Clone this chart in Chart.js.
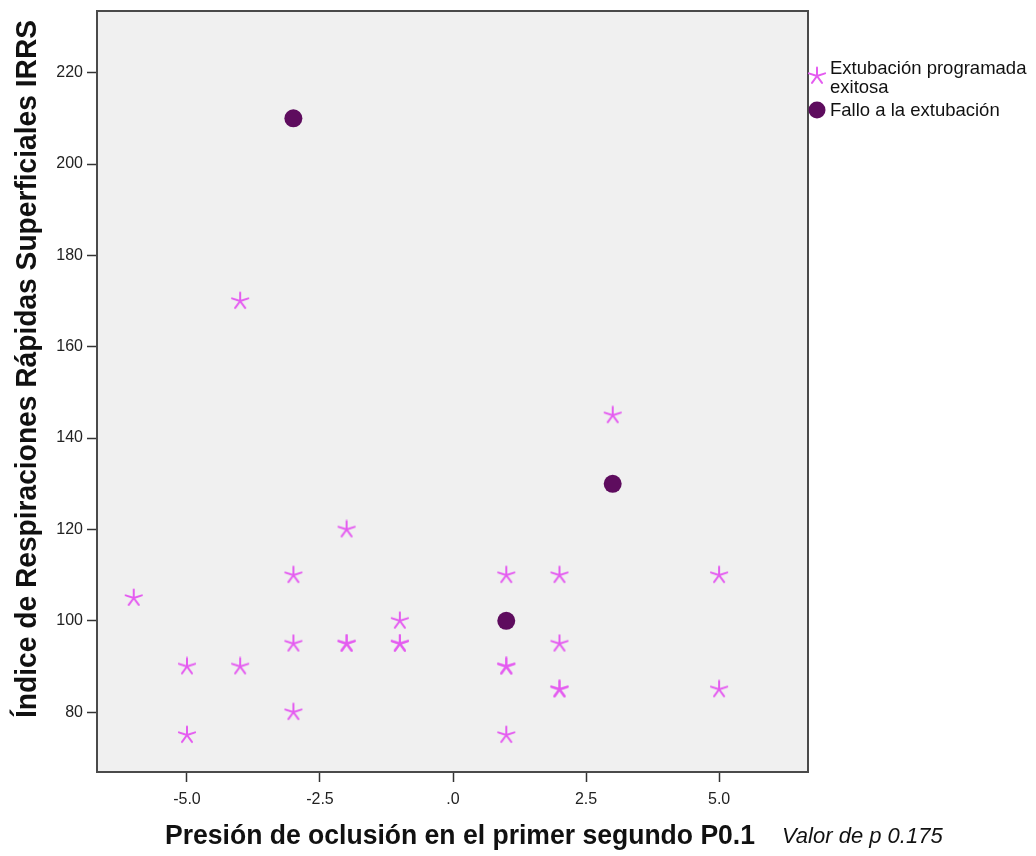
<!DOCTYPE html>
<html>
<head>
<meta charset="utf-8">
<script src="https://cdn.jsdelivr.net/npm/chart.js@4"></script>
<style>
  body { margin: 0; background: #fff; }
  #wrap { width: 1036px; height: 856px; }
</style>
</head>
<body>
<div id="wrap"><canvas id="grafico" width="1036" height="856"></canvas></div>
<script>
// datos
const exitosaX = [-6, -5, -5, -4, -4, -3, -3, -3, -2, -2, -2, -1, -1, -1, 1, 1, 1, 1, 2, 2, 2, 2, 3, 5, 5];
const exitosaY = [105, 90, 75, 170, 90, 110, 95, 80, 120, 95, 95, 100, 95, 95, 110, 90, 90, 75, 110, 95, 85, 85, 145, 110, 85];
const falloX = [-3, 1, 3];
const falloY = [210, 100, 130];

const xTicks = [-5, -2.5, 0, 2.5, 5];
const yTicks = [80, 100, 120, 140, 160, 180, 200, 220];

const etiquetas = ['Extubación programada exitosa', 'Fallo a la extubación'];
const tituloX = 'Presión de oclusión en el primer segundo P0.1';
const tituloY = 'Índice de Respiraciones Rápidas Superficiales IRRS';
const textoP = 'Valor de p 0.175';

const colorEstrella = '#e45cf0';
const colorCirculo = '#5e0c5e';

// estrella de 5 brazos (como SPSS)
function hacerEstrella(size, color) {
    const c = document.createElement('canvas');
    c.width = size; c.height = size;
    const g = c.getContext('2d');
    g.strokeStyle = color;
    g.lineWidth = 2;
    g.lineCap = 'round';
    const r = size / 2 - 1.5;
    for (let k = 0; k < 5; k++) {
        const a = (-90 + 72 * k) * Math.PI / 180;
        g.beginPath();
        g.moveTo(size / 2, size / 2);
        g.lineTo(size / 2 + r * Math.cos(a), size / 2 + r * Math.sin(a));
        g.stroke();
    }
    return c;
}
const estrella = hacerEstrella(20, colorEstrella);

// fondo gris, marco, titulos y leyenda
const fondo = {
    id: 'fondo',
    beforeDraw(chart) {
        const a = chart.chartArea, ctx = chart.ctx;
        ctx.save();
        ctx.fillStyle = '#f0f0f0';
        ctx.fillRect(a.left, a.top, a.right - a.left, a.bottom - a.top);
        ctx.restore();
    },
    afterDraw(chart) {
        const a = chart.chartArea, ctx = chart.ctx;
        ctx.save();
        ctx.strokeStyle = '#4a4a4a';
        ctx.lineWidth = 2;
        ctx.strokeRect(a.left, a.top, a.right - a.left, a.bottom - a.top);

        // titulos
        ctx.fillStyle = '#111';
        ctx.font = 'bold 27px "Liberation Sans", Arial, sans-serif';
        ctx.textAlign = 'center';
        ctx.textBaseline = 'middle';
        ctx.fillText(tituloX, 460, 837, 590);

        ctx.font = 'italic 22px "Liberation Sans", Arial, sans-serif';
        ctx.textAlign = 'left';
        ctx.fillText(textoP, 782, 837, 163);

        ctx.save();
        ctx.translate(28, 369);
        ctx.rotate(-Math.PI / 2);
        ctx.font = 'bold 29px "Liberation Sans", Arial, sans-serif';
        ctx.textAlign = 'center';
        ctx.fillText(tituloY, 0, 0, 698);
        ctx.restore();

        // leyenda
        ctx.drawImage(estrella, 807, 66, 20, 20);
        ctx.font = '18.5px "Liberation Sans", Arial, sans-serif';
        ctx.fillStyle = '#111';
        ctx.textAlign = 'left';
        ctx.fillText('Extubación programada', 830, 69, 198);
        ctx.fillText('exitosa', 830, 88, 198);
        ctx.beginPath();
        ctx.arc(817, 110, 8.5, 0, Math.PI * 2);
        ctx.fillStyle = colorCirculo;
        ctx.fill();
        ctx.fillStyle = '#111';
        ctx.fillText('Fallo a la extubación', 830, 111, 198);
        ctx.restore();
    }
};

new Chart(document.getElementById('grafico'), {
    type: 'scatter',
    data: {
        datasets: [{
            label: etiquetas[0],
            data: exitosaX.map((x, i) => ({ x: x, y: exitosaY[i] })),
            pointStyle: estrella,
            pointRadius: 10,
            backgroundColor: colorEstrella,
            borderColor: colorEstrella
        }, {
            label: etiquetas[1],
            data: falloX.map((x, i) => ({ x: x, y: falloY[i] })),
            pointStyle: 'circle',
            pointRadius: 9,
            backgroundColor: colorCirculo,
            borderColor: colorCirculo,
            borderWidth: 0
        }]
    },
    options: {
        responsive: false,
        animation: false,
        layout: { padding: { top: 5, right: 228, left: 0, bottom: 0 } },
        plugins: {
            legend: { display: false },
            tooltip: { enabled: false }
        },
        scales: {
            x: {
                type: 'linear',
                min: -6.69,
                max: 6.67,
                afterFit(s) { s.height = 84; s.paddingLeft = 0; s.paddingRight = 0; },
                afterBuildTicks(s) { s.ticks = xTicks.map(v => ({ value: v })); },
                grid: { drawOnChartArea: false, drawTicks: true, tickLength: 10, tickColor: '#333', tickWidth: 1.5 },
                border: { display: true, color: '#4a4a4a', width: 2 },
                ticks: {
                    autoSkip: false,
                    maxRotation: 0,
                    padding: 8,
                    color: '#222',
                    font: { family: '"Liberation Sans", Arial, sans-serif', size: 16 },
                    callback: v => (v === 0 ? '.0' : v.toFixed(1))
                }
            },
            y: {
                min: 66.9,
                max: 233.5,
                afterFit(s) { s.width = 97; s.paddingTop = 0; s.paddingBottom = 0; },
                afterBuildTicks(s) { s.ticks = yTicks.map(v => ({ value: v })); },
                grid: { drawOnChartArea: false, drawTicks: true, tickLength: 10, tickColor: '#333', tickWidth: 1.5 },
                border: { display: true, color: '#4a4a4a', width: 2 },
                ticks: {
                    autoSkip: false,
                    padding: 4,
                    color: '#222',
                    font: { family: '"Liberation Sans", Arial, sans-serif', size: 16 }
                }
            }
        }
    },
    plugins: [fondo]
});
</script>
</body>
</html>
